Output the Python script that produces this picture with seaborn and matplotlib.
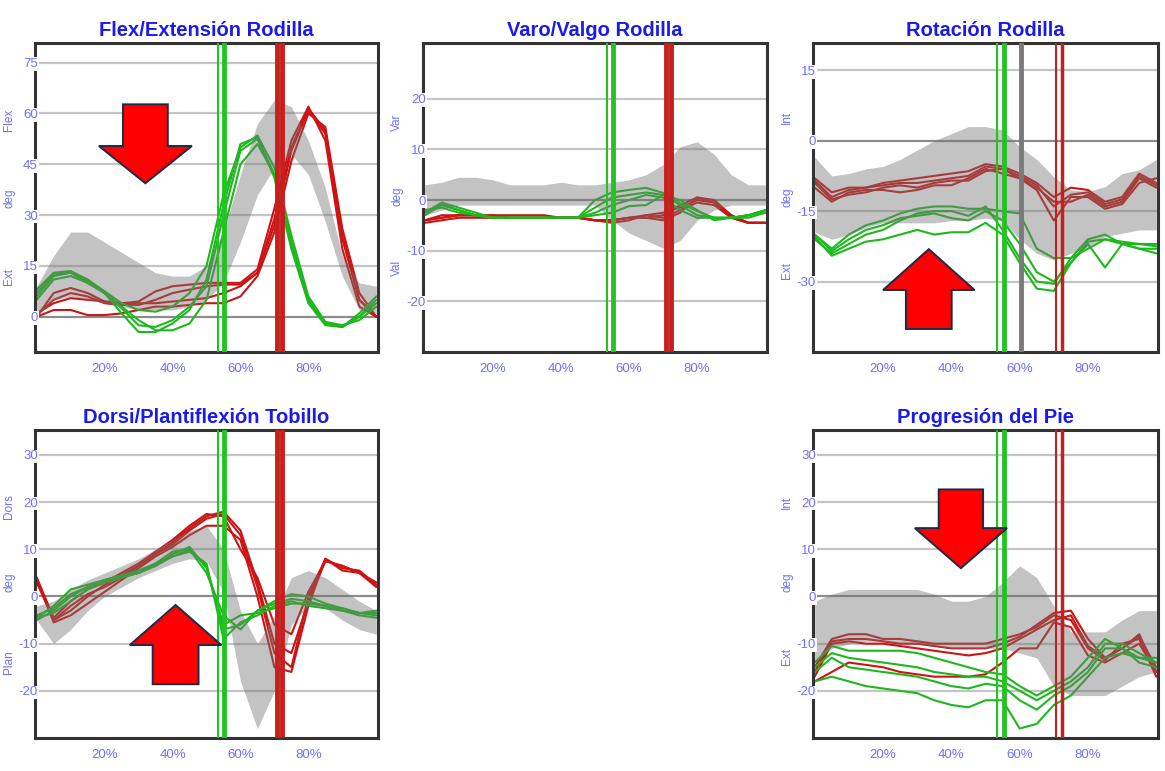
import pandas as pd
import matplotlib
matplotlib.use("Agg")
import matplotlib.pyplot as plt
import matplotlib.transforms as mtransforms
from matplotlib.patches import Polygon
import seaborn as sns

sns.set_theme(style="white")
plt.rcParams['font.family'] = ['Liberation Sans', 'DejaVu Sans']

# ==========================================
# DATA (% of gait cycle)
# ==========================================
PCT = [0, 5, 10, 15, 20, 25, 30, 35, 40, 45, 50, 55, 60, 65, 70, 75, 80, 85, 90, 95, 100]
PCT_TICKS = [20, 40, 60, 80]
PCT_LABELS = ['20%', '40%', '60%', '80%']

# Flex/Extension rodilla
flex_red = [
    [0, 7, 8.5, 7, 4.5, 4, 4.5, 7.5, 9, 9.5, 10, 10, 10, 14, 32, 52, 62, 52, 20, 3, 0],
    [1, 4, 5.5, 5, 4.5, 4, 4, 4, 4.5, 5, 5.5, 7, 9, 13, 27, 49, 61, 54, 23, 5, 0],
    [0, 2, 2, 0.5, 0.5, 1, 2, 3, 3, 3.5, 4, 4, 6, 12, 25, 46, 60, 56, 26, 7, 0],
    [0.5, 5, 7, 6, 4, 3.5, 3.5, 5, 7, 8, 9, 9.5, 9.5, 13, 29, 50, 61.5, 55, 24, 5, 0],
]
flex_green = [
    [7, 12.5, 13, 10, 7, 1, -4.5, -4.5, -2, 2, 11, 33, 51, 53, 41, 20, 4, -2.5, -3, 1, 6],
    [5, 11, 12, 10, 7, 3, -1, -4, -4, -2, 5, 25, 45, 51, 42, 22, 5, -2, -3, 0, 4],
    [8, 13, 13.5, 11, 7.5, 4, 2, 1.5, 3, 7, 15, 36, 50, 53.5, 44, 24, 6, -1.5, -2.5, -1, 3],
    [6, 12, 13, 10.5, 7, 2.5, -2.5, -3, -1, 3, 9, 30, 49, 52.5, 42, 21, 4.5, -2, -3, 0, 5],
]
flex_lo = [0, 5, 6, 5, 4, 3, 2, 2, 2, 3, 5, 10, 22, 36, 44, 48, 42, 28, 12, 2, 1]
flex_hi = [9, 18, 25, 25, 22, 19, 16, 13, 12, 12, 15, 25, 42, 57, 64, 62, 52, 38, 18, 10, 9]

# Varo/Valgo rodilla
vv_red = [
    [-4, -3.5, -3, -3, -3, -3, -3, -3, -3.5, -3.5, -4, -4, -3.5, -3, -2.5, -1.5, 0, -0.5, -3, -4.5, -4.5],
    [-4, -3.5, -3, -3, -3.5, -3.5, -3.5, -3.5, -3.5, -3.5, -4, -4, -3.5, -3.5, -4, -2.5, 0.5, 0, -3, -4.5, -4.5],
    [-4.5, -4, -3.5, -3.5, -3.5, -3.5, -3.5, -3.5, -3.5, -3.5, -4, -4.5, -4, -3, -3.5, -2, -0.5, -1, -3.5, -4.5, -4.5],
    [-4, -3, -3, -3, -3, -3.5, -3.5, -3.5, -3.5, -3.5, -4, -4, -3.5, -3.5, -3, -1, 0.5, -0.5, -3.5, -4.5, -4.5],
]
vv_green = [
    [-2.5, -0.5, -1.5, -2.5, -3.5, -3.5, -3.5, -3.5, -3.5, -3.5, 0, 1.5, 2, 2.4, 1.4, -0.6, -2.2, -3.5, -3.5, -3, -2],
    [-3, -1, -2, -3, -3.5, -3.5, -3.5, -3.5, -3.5, -3.5, -2.5, -1, 0, 1, 0.5, -2, -3.5, -3.5, -3.5, -3, -2.5],
    [-2, -1.5, -2.5, -3, -3.5, -3.5, -3.5, -3.5, -3.5, -3.5, -3, -2.5, -1.2, -1, 1, 0, -2, -4, -3.5, -3.5, -2.5],
    [-2.5, -0.8, -2, -3, -3.5, -3.5, -3.5, -3.5, -3.5, -3.5, -1.5, 0.5, 1, 1.5, 1, -1, -3, -3.5, -3.5, -3, -2],
]
vv_lo = [-3, -2, -1, -1, -1, -1, -1, -1, -1, -1, -1, -4, -6.5, -8, -9.5, -8, -4, -2, -1, -1, -1]
vv_hi = [3, 3.5, 4.5, 4.5, 4, 3, 3, 3, 3.5, 3, 3, 3.5, 4, 5, 7, 10.5, 11.5, 9, 5, 3, 3]

# Rotacion rodilla
rot_red = [
    [-8, -11, -10, -10, -9, -8.5, -8, -7.5, -7, -6.5, -5, -5.5, -7, -9, -12, -10, -10.5, -13, -12, -7, -9],
    [-9, -12.5, -11.5, -11, -10, -9.5, -10, -9, -8.5, -8.5, -6.5, -6, -8, -10, -13, -13, -11.5, -14, -13, -8, -10],
    [-10, -13, -11, -10.5, -10.5, -11, -10.5, -9.5, -9.5, -8, -6, -7, -8, -10.5, -17, -12, -12, -14.5, -13.5, -9, -8],
    [-8.5, -12, -10.5, -10, -9.5, -9, -9, -8.5, -8, -7.5, -5.5, -6, -7.5, -9.5, -14, -11.5, -11, -13.5, -12.5, -7.5, -9.5],
]
rot_green = [
    [-20, -23, -20, -18, -17, -15.5, -14.5, -14, -14, -14.5, -14.5, -15, -15.5, -23, -25, -25, -23, -21, -22, -22, -22],
    [-21, -24, -22, -20, -19, -17, -15.5, -15, -15, -16, -14, -19, -25, -30, -30.5, -25, -21, -20, -22, -23, -23],
    [-20.5, -24.5, -23, -21.5, -21, -20, -19, -20, -19.5, -19.5, -17.5, -20, -26, -31.5, -32, -26, -22, -27, -22, -23, -24],
    [-20, -23.5, -21, -19, -18, -16.5, -16, -15.5, -16.5, -17, -15, -17, -22, -28, -30, -26, -21.5, -21, -21.5, -22, -22.5],
]
rot_lo = [-19.5, -21, -20, -18.5, -17.5, -17.5, -17.5, -17.5, -17, -17, -16.5, -17, -21, -24, -25.4, -24, -22.6, -20.4, -19.7, -19, -19]
rot_hi = [-3.5, -7.5, -7, -6, -5.5, -4, -2, 0, 1.5, 3, 3, 2.3, -1.3, -4, -7.7, -10.5, -10.8, -9.8, -7, -6.2, -4]

# Dorsi/Plantiflexion tobillo
ank_red = [
    [4, -4.5, -1, 1.5, 3, 5, 7, 9.5, 12, 15, 17.5, 17, 10, 4, -6, -8, 1, 7.5, 6.5, 5, 3],
    [3, -5, -3, 0, 2.5, 4.5, 6.5, 9, 11, 14, 16.5, 17.5, 13, 2, -12, -15, 0, 8, 6, 5.5, 2.5],
    [4, -5.5, -4, -1.5, 1, 3.5, 6, 8.5, 10.5, 13, 15, 15, 12, 0, -15, -16, -2, 8, 5.5, 5, 2],
    [3.5, -5, -2, 0.5, 2, 4, 6.5, 9, 11.5, 14.5, 17, 18, 14, 3, -10, -12, -1, 7.5, 6.5, 5, 2.5],
]
ank_green = [
    [-4.5, -2, 1.5, 2.5, 3.5, 4.5, 5.5, 7, 9.5, 10, 5, -4, -7, -3, -1, 0.5, 0, -1.5, -2.5, -3.5, -3.5],
    [-4.5, -3.5, -1, 1.5, 3, 4, 5, 6.5, 9, 10.5, 6, -6, -4, -3.5, -2.5, -1.5, -1.5, -2, -3, -4, -4.5],
    [-5, -3, 0, 2, 3.5, 4.5, 5, 7, 8.5, 9.5, 7, -9, -5.5, -4, -2, -1, -2, -2.5, -3, -3.5, -3],
    [-4, -2.5, 0.5, 2, 3, 4, 5, 6.5, 8.5, 10, 6.5, -7, -6, -3, -1.5, -0.5, -1, -2, -2.5, -3.5, -4],
]
ank_lo = [-5, -10, -7, -3, 0, 2, 4, 5.5, 7, 8, 7.5, 1, -18, -28, -20, -6, -2, -2.5, -5, -7, -8]
ank_hi = [-2, -1, 1.5, 3.5, 5, 6.5, 8, 10, 12, 14, 15, 10, -3, -10, -4, 4, 5.5, 4, 1.5, -1, -3]

# Progresion del pie
fp_red = [
    [-15, -9, -8, -8, -9, -9, -9.5, -10, -10, -10, -10, -9, -8, -6.5, -4, -5, -11, -13.5, -10, -9, -17],
    [-17, -10, -9.5, -10, -10, -10.5, -11, -11.5, -12, -12.5, -12, -11, -9, -7, -5, -4, -10.5, -13, -11, -8.5, -15],
    [-18, -16, -14, -14.5, -15, -16, -16.5, -17, -17, -17, -16.5, -14, -11, -11, -5.5, -6.5, -12.5, -14, -12, -10, -16],
    [-16, -9.5, -9, -9, -9.5, -10, -10, -10.5, -11, -11, -11, -10, -8.5, -6, -3.5, -3, -9, -13, -11, -8, -16],
]
fp_green = [
    [-14, -10.5, -11.5, -11.5, -11.5, -11.5, -12, -13, -14, -15, -16, -16.5, -19, -21, -19, -17, -13, -9, -11, -14, -15],
    [-16, -13, -15, -15.5, -16, -16.5, -17, -18, -19, -19.5, -18.5, -19, -22, -24, -21, -19, -16, -11, -11, -13, -14],
    [-18, -17, -18, -19, -19.5, -20, -20.5, -22, -23, -23.5, -22, -22, -28, -27, -23, -21, -17, -13, -12, -13, -13],
    [-15, -12, -13, -13.5, -14, -14.5, -15, -16, -16.5, -17, -17, -18, -20, -22, -20, -18, -15, -10, -10, -12, -14],
]
fp_lo = [-14, -11, -10, -9.5, -9.5, -10, -10, -10.5, -11, -11, -11, -11, -12, -13, -19, -21, -21, -21, -19, -17, -16]
fp_hi = [-1, 0.5, 1.5, 1.5, 1.5, 1.5, 1.5, 0.5, -1, -1, 0, 3, 6.5, 4, -2, -7.5, -7.5, -7.5, -5, -3, -3]

# gait events (% of cycle, line width)
GREEN_EVENTS = [(53.4, 1.5), (55.3, 3.5)]
RED_EVENTS_WIDE = [(70.9, 3.5), (72.3, 3.5)]
RED_EVENTS_THIN = [(70.5, 1.5), (72.4, 2.5)]
GRAY_EVENT = 60.3

RED = '#cc1414'
GREEN = '#1db81d'
TXT = '#7070ff'
TITLE = '#1a1aee'

W, H = 1165, 771


def long_frame(red, green):
    rows = []
    for side, curves in (("izq", red), ("der", green)):
        for k, curve in enumerate(curves):
            for p, v in zip(PCT, curve):
                rows.append((side, f"{side}{k}", p, v))
    return pd.DataFrame(rows, columns=["lado", "ensayo", "pct", "deg"])


def arrow(ax, cx, tail, shoulder, tip, half_shaft, half_head):
    pts = [(cx - half_shaft, tail), (cx + half_shaft, tail), (cx + half_shaft, shoulder),
           (cx + half_head, shoulder), (cx, tip), (cx - half_head, shoulder),
           (cx - half_shaft, shoulder)]
    ax.add_patch(Polygon(pts, closed=True, facecolor='#ff0000', edgecolor='#1c2b4a',
                         lw=1.4, zorder=6))


def panel(rect_px, title, red, green, lo, hi, ylim, yticks, side_labels, red_events):
    l, r, t, b = rect_px
    ax = fig.add_axes([l / W, 1 - b / H, (r - l) / W, (b - t) / H])
    for y in yticks:
        ax.axhline(y, color='#8c8c8c' if y == 0 else '#c4c4c4', lw=1.6, zorder=1)

    sns.lineplot(data=long_frame(red, green), x="pct", y="deg", hue="lado", units="ensayo",
                 estimator=None, palette={"izq": RED, "der": GREEN}, linewidth=1.5,
                 legend=False, sort=False, ax=ax, zorder=2)
    ax.fill_between(PCT, lo, hi, color='#747474', alpha=0.43, lw=0, zorder=3)

    for x, lw in GREEN_EVENTS:
        ax.axvline(x, color='#22c422', lw=lw, zorder=4)
    for x, lw in red_events:
        ax.axvline(x, color='#c81e1e', lw=lw, zorder=4)

    ax.set_xlim(-0.5, 100.5)
    ax.set_ylim(*ylim)
    ax.set_xticks(PCT_TICKS)
    ax.set_xticklabels(PCT_LABELS)
    ax.set_yticks(yticks)
    ax.set_yticklabels([str(v) for v in yticks])
    ax.set_xlabel("")
    ax.set_ylabel("")
    ax.tick_params(axis='x', direction='in', length=22, width=1.4, color='#c8c8c8',
                   labelcolor=TXT, labelsize=9.5, pad=8)
    ax.tick_params(axis='y', length=0, labelcolor=TXT, labelsize=9.5, pad=-2)
    ax.yaxis.set_zorder(3)
    for lbl in ax.get_yticklabels():
        lbl.set_bbox(dict(facecolor='white', edgecolor='none', pad=0.6))
    for sp in ax.spines.values():
        sp.set_color('#333333')
        sp.set_linewidth(2.2)

    trans = mtransforms.blended_transform_factory(ax.transAxes, ax.transData)
    for txt, y in side_labels:
        ax.text(-0.075, y, txt, rotation=90, ha='center', va='center', color=TXT,
                fontsize=8.5, transform=trans)
    ax.set_title(title, color=TITLE, fontsize=14.5, fontweight='bold', pad=5)
    return ax


fig = plt.figure(figsize=(W / 100, H / 100), dpi=100)
fig.patch.set_facecolor('white')

ax1 = panel((35, 378, 43, 352), "Flex/Extensión Rodilla", flex_red, flex_green, flex_lo, flex_hi,
            (-10.4, 80.8), [0, 15, 30, 45, 60, 75], [("Flex", 58), ("deg", 35), ("Ext", 12)],
            RED_EVENTS_WIDE)
arrow(ax1, 32, 62.7, 50.4, 39.4, 6.6, 13.7)

ax2 = panel((423, 767, 43, 352), "Varo/Valgo Rodilla", vv_red, vv_green, vv_lo, vv_hi,
            (-30, 31), [-20, -10, 0, 10, 20], [("Var", 15.4), ("deg", 0.7), ("Val", -13.4)],
            RED_EVENTS_WIDE)

ax3 = panel((813, 1158, 43, 352), "Rotación Rodilla", rot_red, rot_green, rot_lo, rot_hi,
            (-45, 20.8), [-30, -15, 0, 15], [("Int", 5), ("deg", -12), ("Ext", -27.6)],
            RED_EVENTS_THIN)
ax3.axvline(GRAY_EVENT, color='#7a7a7a', lw=3.5, zorder=4)
arrow(ax3, 33.4, -40.1, -31.8, -23.1, 6.7, 13.4)

ax4 = panel((35, 378, 430, 738), "Dorsi/Plantiflexión Tobillo", ank_red, ank_green, ank_lo, ank_hi,
            (-30, 35.3), [-20, -10, 0, 10, 20, 30], [("Dors", 19), ("deg", 3), ("Plan", -13.9)],
            RED_EVENTS_WIDE)
arrow(ax4, 40.9, -18.6, -10.3, -1.8, 6.75, 13.5)

ax5 = panel((813, 1158, 430, 738), "Progresión del Pie", fp_red, fp_green, fp_lo, fp_hi,
            (-30, 35.3), [-20, -10, 0, 10, 20, 30], [("Int", 20), ("deg", 3), ("Ext", -12.8)],
            RED_EVENTS_THIN)
arrow(ax5, 42.8, 22.7, 14.5, 6.0, 6.5, 13.5)

fig.savefig("out.png", dpi=100)
